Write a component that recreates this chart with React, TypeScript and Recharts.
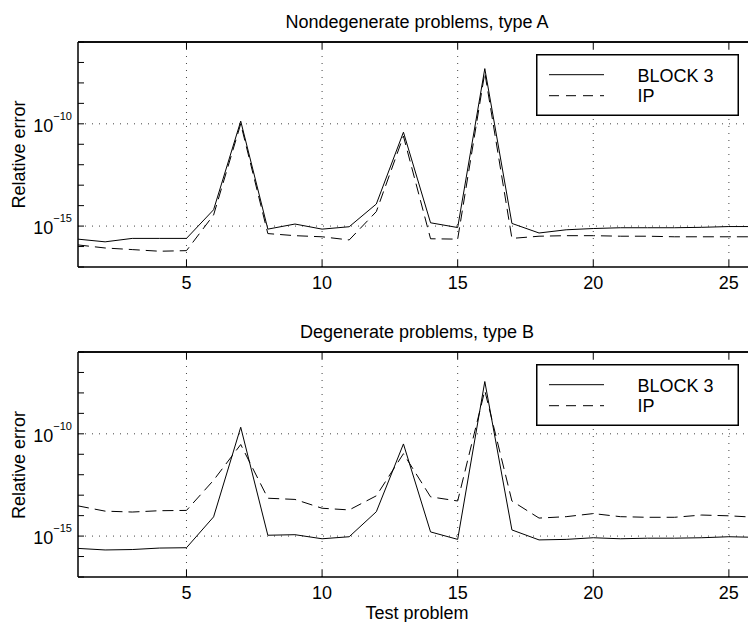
import React from "react";
import {
  LineChart,
  Line,
  XAxis,
  YAxis,
  ReferenceLine,
  Legend,
} from "recharts";

// test problem index
const problems = [
  1, 2, 3, 4, 5, 6, 7, 8, 9, 10, 11, 12, 13, 14, 15, 16, 17, 18, 19, 20, 21,
  22, 23, 24, 25, 26,
];

// Nondegenerate problems, type A
const blockA = [
  2.3e-16, 1.7e-16, 2.5e-16, 2.5e-16, 2.5e-16, 6.3e-15, 1.35e-10, 7.1e-16,
  1.26e-15, 7.1e-16, 9.3e-16, 1.2e-14, 3.9e-11, 1.45e-15, 8.5e-16, 5.0e-8,
  1.35e-15, 4.6e-16, 6.6e-16, 7.6e-16, 8.3e-16, 8.3e-16, 8.3e-16, 8.7e-16,
  9.5e-16, 9.5e-16,
];
const ipA = [
  1.2e-16, 8.5e-17, 7.1e-17, 5.9e-17, 6.3e-17, 3.5e-15, 1.0e-10, 4.3e-16,
  3.4e-16, 3.0e-16, 2.1e-16, 5.1e-15, 2.5e-11, 2.4e-16, 2.3e-16, 3.2e-8,
  2.5e-16, 3.2e-16, 3.4e-16, 3.4e-16, 3.2e-16, 3.2e-16, 3.0e-16, 3.0e-16,
  3.0e-16, 3.0e-16,
];

// Degenerate problems, type B
const blockB = [
  2.5e-16, 2.1e-16, 2.2e-16, 2.6e-16, 2.7e-16, 8.7e-15, 2.1e-10, 1.1e-15,
  1.17e-15, 7.4e-16, 9.3e-16, 1.55e-14, 3.2e-11, 1.6e-15, 6.9e-16, 3.6e-8,
  2.0e-15, 6.5e-16, 6.9e-16, 8.3e-16, 7.4e-16, 7.9e-16, 7.9e-16, 8.3e-16,
  9.3e-16, 8.7e-16,
];
const ipB = [
  3.0e-14, 1.66e-14, 1.5e-14, 1.74e-14, 1.8e-14, 5.4e-13, 3.0e-11, 7.1e-14,
  6.2e-14, 2.3e-14, 1.9e-14, 9.3e-14, 1.07e-11, 8.3e-14, 5.2e-14, 1.3e-8,
  5.2e-14, 7.6e-15, 8.9e-15, 1.26e-14, 8.9e-15, 8.3e-15, 8.3e-15, 1.07e-14,
  9.8e-15, 8.3e-15,
];

const xTicks = [5, 10, 15, 20, 25];
const yTicks = [
  1e-17, 1e-16, 1e-15, 1e-14, 1e-13, 1e-12, 1e-11, 1e-10, 1e-9, 1e-8, 1e-7,
  1e-6,
];
const yLabelled = [-10, -15];

const FONT = "'Liberation Sans', Arial, Helvetica, sans-serif";

const YTick = (props: any) => {
  const { x, y, payload } = props;
  const exp = Math.round(Math.log10(payload.value));
  return (
    <g>
      <line x1={x} x2={x + 6} y1={y} y2={y} stroke="#000" strokeWidth={1} />
      {yLabelled.includes(exp) && (
        <text
          x={x - 6}
          y={y + 8}
          textAnchor="end"
          fontSize={18}
          fontFamily={FONT}
          fill="#000"
        >
          10
          <tspan fontSize={11} dy={-12}>
            {"\u2212" + Math.abs(exp)}
          </tspan>
        </text>
      )}
    </g>
  );
};

const BottomTick = (props: any) => {
  const { x, y, payload } = props;
  return (
    <g>
      <line x1={x} x2={x} y1={y} y2={y - 7} stroke="#000" strokeWidth={1} />
      <text
        x={x}
        y={y + 22}
        textAnchor="middle"
        fontSize={18}
        fontFamily={FONT}
        fill="#000"
      >
        {payload.value}
      </text>
    </g>
  );
};

const TopTick = (props: any) => {
  const { x, y } = props;
  return <line x1={x} x2={x} y1={y} y2={y + 7} stroke="#000" strokeWidth={1} />;
};

const LegendBox = (props: any) => {
  const items = props.payload || [];
  return (
    <svg width={203} height={62} style={{ display: "block" }}>
      <rect
        x={0.75}
        y={0.75}
        width={201.5}
        height={60.5}
        fill="#fff"
        stroke="#000"
        strokeWidth={1.5}
      />
      {items.map((it: any, i: number) => (
        <g key={i}>
          <line
            x1={13}
            x2={68}
            y1={20.7 + i * 21}
            y2={20.7 + i * 21}
            stroke="#000"
            strokeWidth={1}
            strokeDasharray={i === 1 ? "10 7" : undefined}
          />
          <text
            x={101.5}
            y={27.7 + i * 20}
            fontSize={18}
            fontFamily={FONT}
            fill="#000"
          >
            {it.value}
          </text>
        </g>
      ))}
    </svg>
  );
};

const Panel = ({
  block,
  ip,
  top,
  marginTop,
  marginBottom,
}: {
  block: number[];
  ip: number[];
  top: number;
  marginTop: number;
  marginBottom: number;
}) => {
  const data = problems.map((p, i) => ({ problem: p, block: block[i], ip: ip[i] }));
  return (
    <div style={{ position: "absolute", left: 0, top }}>
      <LineChart
        width={760}
        height={311}
        data={data}
        margin={{ top: marginTop - 1, right: 4, left: 0, bottom: marginBottom }}
      >
        <XAxis
          dataKey="problem"
          type="number"
          domain={[1, 26]}
          ticks={xTicks}
          interval={0}
          allowDataOverflow
          height={30}
          tickSize={0}
          tickMargin={0}
          tickLine={false}
          tick={<BottomTick />}
          axisLine={{ stroke: "#000", strokeWidth: 1.5 }}
        />
        <XAxis
          xAxisId="top"
          orientation="top"
          dataKey="problem"
          type="number"
          domain={[1, 26]}
          ticks={xTicks}
          interval={0}
          allowDataOverflow
          height={1}
          tickSize={0}
          tickMargin={0}
          tickLine={false}
          tick={<TopTick />}
          axisLine={{ stroke: "#000", strokeWidth: 1.5 }}
        />
        <YAxis
          scale="log"
          type="number"
          domain={[1e-17, 1e-6]}
          ticks={yTicks}
          interval={0}
          allowDataOverflow
          width={78}
          tickSize={0}
          tickMargin={0}
          tickLine={false}
          tick={<YTick />}
          axisLine={{ stroke: "#000", strokeWidth: 1.5 }}
        />
        {yLabelled.map((e) => (
          <ReferenceLine
            key={"h" + e}
            y={Math.pow(10, e)}
            stroke="#444"
            strokeDasharray="1 6"
          />
        ))}
        {xTicks.map((t) => (
          <ReferenceLine
            key={"v" + t}
            x={t}
            stroke="#444"
            strokeDasharray="1 6"
          />
        ))}
        {/* box top edge */}
        <ReferenceLine y={1e-6} stroke="#000" strokeWidth={1.5} />
        <Legend
          layout="horizontal"
          verticalAlign="middle"
          align="center"
          content={<LegendBox />}
          wrapperStyle={{ left: 536, top: marginTop + 12, width: 203, height: 62 }}
        />
        <Line
          type="linear"
          dataKey="block"
          name="BLOCK 3"
          stroke="#000"
          strokeWidth={1}
          dot={false}
          isAnimationActive={false}
        />
        <Line
          type="linear"
          dataKey="ip"
          name="IP"
          stroke="#000"
          strokeWidth={1}
          strokeDasharray="11 6"
          dot={false}
          isAnimationActive={false}
        />
      </LineChart>
    </div>
  );
};

const App = () => {
  return (
    <div
      style={{
        position: "absolute",
        left: 0,
        top: 0,
        width: 748,
        height: 622,
        overflow: "hidden",
        background: "#fff",
      }}
    >
      <Panel block={blockA} ip={ipA} top={0} marginTop={42} marginBottom={14} />
      <Panel block={blockB} ip={ipB} top={311} marginTop={41} marginBottom={15} />
      <svg
        width={748}
        height={622}
        style={{ position: "absolute", left: 0, top: 0, pointerEvents: "none" }}
        fontFamily={FONT}
        fontSize={18}
        fill="#000"
      >
        <text x={417} y={28.3} textAnchor="middle">
          Nondegenerate problems, type A
        </text>
        <text x={417} y={338} textAnchor="middle">
          Degenerate problems, type B
        </text>
        <text x={417} y={619} textAnchor="middle">
          Test problem
        </text>
        <text x={25} y={154.5} textAnchor="middle" transform="rotate(-90 25 154.5)">
          Relative error
        </text>
        <text x={25} y={465} textAnchor="middle" transform="rotate(-90 25 465)">
          Relative error
        </text>
      </svg>
    </div>
  );
};

export default App;
